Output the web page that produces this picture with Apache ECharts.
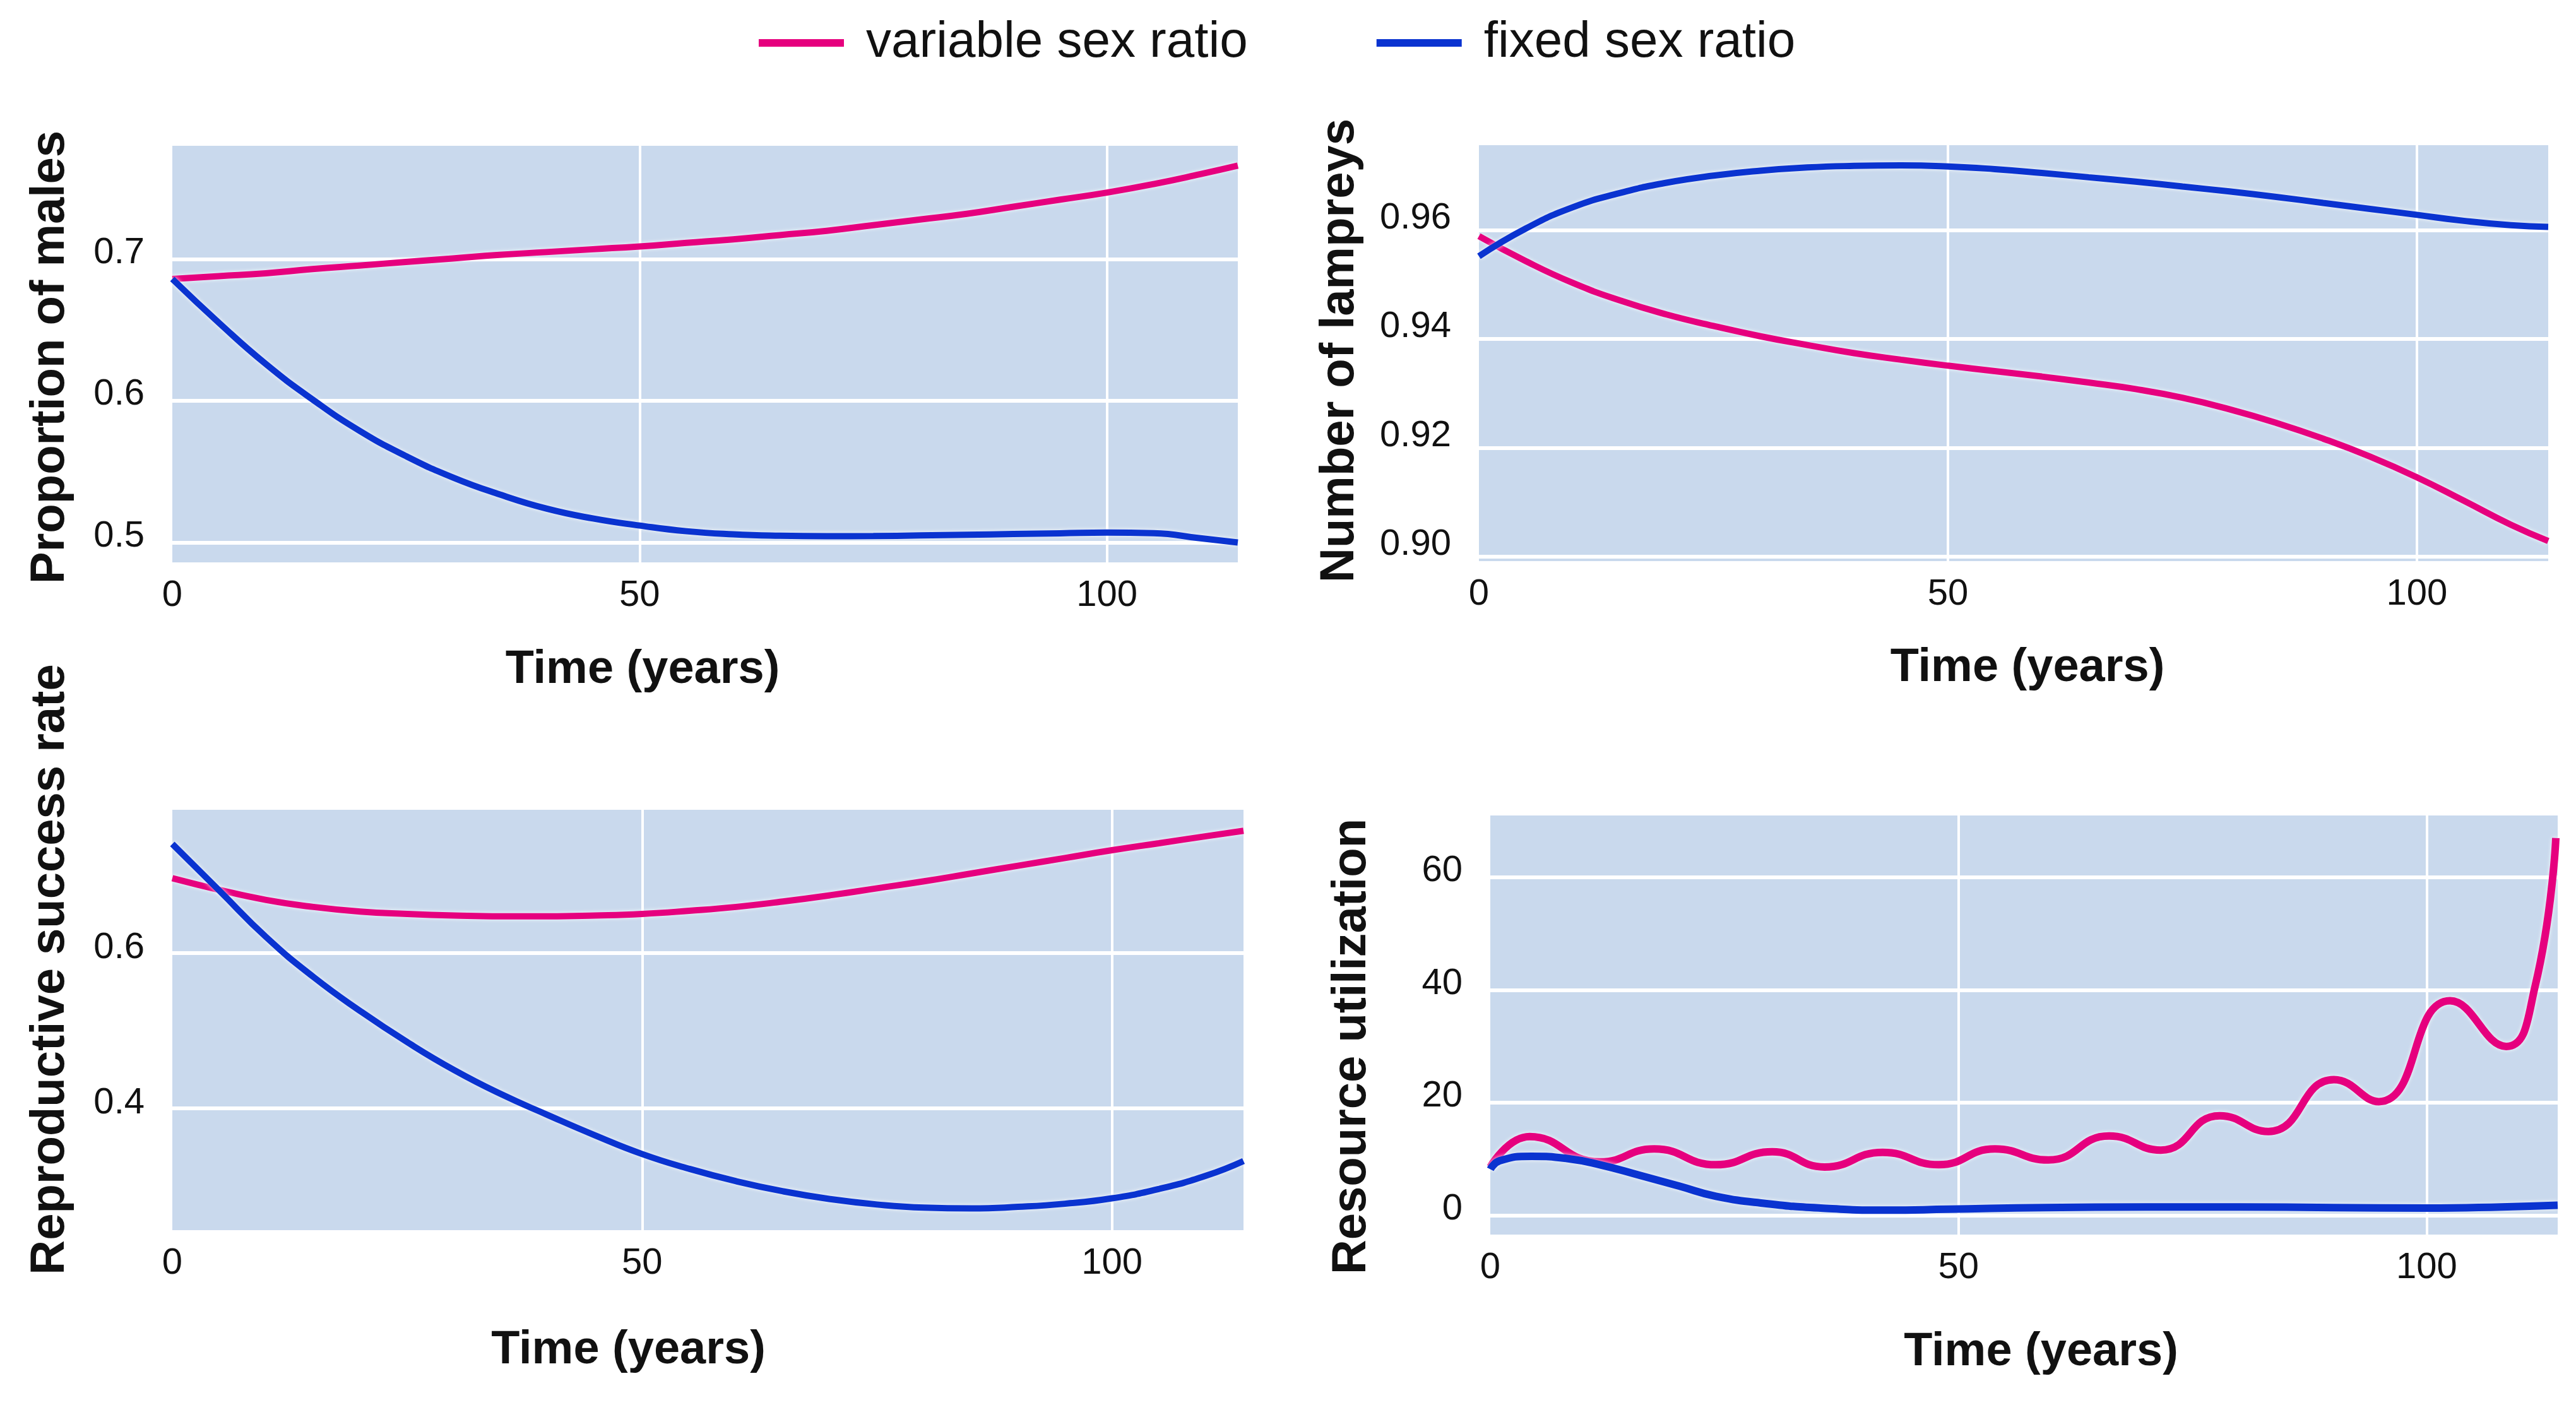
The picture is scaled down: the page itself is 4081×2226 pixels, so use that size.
<!DOCTYPE html>
<html>
<head>
<meta charset="utf-8">
<script src="https://cdn.jsdelivr.net/npm/echarts@6/dist/echarts.min.js"></script>
<style>
html,body{margin:0;padding:0;background:#ffffff;}
#chart{width:4081px;height:2226px;}
</style>
</head>
<body>
<div id="chart"></div>
<script>
// ---------- data ----------
const seriesNames = ['variable sex ratio', 'fixed sex ratio'];
const xTickLabels = [0, 50, 100];
const xGridValues = [50, 100];

const time = [0,5,10,15,20,25,30,35,40,45,50,55,60,65,70,75,80,85,90,95,100,105,110,114];

const malesVariable = [0.686,0.688,0.690,0.693,0.6955,0.698,0.7005,0.703,0.705,0.707,0.709,0.7115,0.714,0.717,0.720,0.724,0.728,0.732,0.737,0.742,0.747,0.753,0.760,0.766];
const malesFixed    = [0.686,0.655,0.626,0.601,0.579,0.561,0.546,0.534,0.524,0.517,0.512,0.508,0.5058,0.5048,0.5045,0.5046,0.505,0.5055,0.506,0.5065,0.507,0.5066,0.503,0.500];
const malesTicks    = [0.5, 0.6, 0.7];

const lampreysVariable = [0.9589,0.9543,0.9503,0.9471,0.9445,0.9424,0.9405,0.9389,0.9374,0.9362,0.9351,0.9341,0.9331,0.9320,0.9308,0.9292,0.9271,0.9246,0.9217,0.9184,0.9146,0.9103,0.9059,0.9029];
const lampreysFixed    = [0.9552,0.9603,0.9642,0.9668,0.9687,0.9700,0.9709,0.9715,0.9718,0.9719,0.9717,0.9712,0.9705,0.9697,0.9689,0.9680,0.9671,0.9661,0.9650,0.9639,0.9628,0.9617,0.9609,0.9606];
const lampreysTicks    = [0.90, 0.92, 0.94, 0.96];

const successVariable = [0.696,0.681,0.668,0.659,0.653,0.650,0.648,0.647,0.647,0.648,0.650,0.654,0.659,0.666,0.674,0.683,0.692,0.702,0.712,0.722,0.732,0.741,0.750,0.757];
const successFixed    = [0.740,0.680,0.620,0.569,0.525,0.485,0.449,0.418,0.391,0.365,0.341,0.322,0.306,0.293,0.283,0.276,0.272,0.271,0.273,0.277,0.284,0.296,0.313,0.332];
const successTicks    = [0.4, 0.6];

const resourceTimeVariable = [0,4.2,11.7,17.5,24.1,30.1,35.7,41.9,47.9,53.9,59.6,66.1,71.6,77.9,83.1,90.1,94.9,102.5,108.5,111.6,113.8];
const resourceVariable     = [8.6,14.0,9.5,11.8,9.0,11.3,8.6,11.2,9.0,11.8,9.85,14.1,11.6,17.7,14.9,24.1,20.2,38.1,30.0,40.8,67.0];
const resourceTimeFixed    = [0,1,4.4,8.2,11.7,16,20.2,24.1,29.5,35.3,42.3,48.9,59.2,70,80,90,100,108,114];
const resourceFixed        = [8.2,9.7,10.5,10.1,9.0,7.1,5.2,3.4,2.1,1.3,0.93,1.1,1.4,1.5,1.5,1.4,1.3,1.5,1.8];
const resourceTicks        = [0, 20, 40, 60];

// ---------- styling / layout ----------
const FONT = 'Liberation Sans';
const PINK = '#e6007e';
const BLUE = '#0a33d0';
const PLOT_BG = '#c9d9ed';

const pairs = (xs, ys) => xs.map((x, i) => [x, ys[i]]);

// labelLift: how far (px) the y tick labels sit above their grid line
const panels = [
  { grid: {left: 273, top: 231, width: 1688, height: 660},
    yName: 'Proportion of males', yMin: 0.486, yMax: 0.780, ticks: malesTicks, dec: 1, labelLift: 10,
    yGap: 155, yPad: [0, 10, 0, 0], xGap: 134, xPad: [0, 198, 0, 0], lw: 10,
    v: pairs(time, malesVariable), f: pairs(time, malesFixed) },
  { grid: {left: 2343, top: 230, width: 1694, height: 659},
    yName: 'Number of lampreys', yMin: 0.8992, yMax: 0.9756, ticks: lampreysTicks, dec: 2, labelLift: 19,
    yGap: 182, yPad: [0, 0, 0, 8], xGap: 133, xPad: [0, 0, 0, 44], lw: 10,
    v: pairs(time, lampreysVariable), f: pairs(time, lampreysFixed) },
  { grid: {left: 273, top: 1283, width: 1697, height: 666},
    yName: 'Reproductive success rate', yMin: 0.243, yMax: 0.784, ticks: successTicks, dec: 1, labelLift: 8,
    yGap: 155, yPad: [0, 0, 0, 160], xGap: 154, xPad: [0, 252, 0, 0], lw: 10,
    v: pairs(time, successVariable), f: pairs(time, successFixed) },
  { grid: {left: 2361, top: 1292, width: 1691, height: 664},
    yName: 'Resource utilization', yMin: -3.4, yMax: 71, ticks: resourceTicks, dec: 0, labelLift: 10,
    yGap: 181, yPad: [0, 68, 0, 0], xGap: 150, xPad: [0, 0, 0, 54], lw: 12,
    v: pairs(resourceTimeVariable, resourceVariable), f: pairs(resourceTimeFixed, resourceFixed) }
];

const grids = [], xAxes = [], yAxes = [], series = [];
panels.forEach((p, i) => {
  grids.push(Object.assign({show: true, backgroundColor: PLOT_BG, borderWidth: 0, containLabel: false, outerBoundsMode: 'none'}, p.grid));
  xAxes.push({
    type: 'value', gridIndex: i, min: 0, max: 114,
    name: 'Time (years)', nameLocation: 'middle', nameGap: p.xGap, nameMoveOverlap: false,
    nameTextStyle: {fontFamily: FONT, fontSize: 74, fontWeight: 'bold', color: '#111', lineHeight: 74, padding: p.xPad},
    axisLine: {show: false},
    axisTick: {show: false, customValues: xGridValues},
    axisLabel: {customValues: xTickLabels, fontFamily: FONT, fontSize: 58, color: '#111', margin: 24, lineHeight: 58},
    splitLine: {show: true, lineStyle: {color: '#ffffff', width: 4}}
  });
  yAxes.push({
    type: 'value', gridIndex: i, min: p.yMin, max: p.yMax,
    name: p.yName, nameLocation: 'middle', nameGap: p.yGap, nameRotate: 90, nameMoveOverlap: false,
    nameTextStyle: {fontFamily: FONT, fontSize: 76, fontWeight: 'bold', color: '#111', lineHeight: 76, padding: p.yPad},
    axisLine: {show: false},
    axisTick: {show: false, customValues: p.ticks},
    axisLabel: {customValues: p.ticks, fontFamily: FONT, fontSize: 58, color: '#111', margin: 44,
      verticalAlign: 'bottom', lineHeight: 2 * p.labelLift,
      formatter: (val) => Number(val).toFixed(p.dec)},
    splitLine: {show: true, lineStyle: {color: '#ffffff', width: 6}}
  });
  series.push({
    name: seriesNames[0], type: 'line', xAxisIndex: i, yAxisIndex: i, data: p.v,
    symbol: 'none', smooth: 0.5, color: PINK,
    lineStyle: {color: PINK, width: p.lw, shadowColor: 'rgba(255,255,255,0.9)', shadowBlur: 6}
  });
  series.push({
    name: seriesNames[1], type: 'line', xAxisIndex: i, yAxisIndex: i, data: p.f,
    symbol: 'none', smooth: 0.5, color: BLUE,
    lineStyle: {color: BLUE, width: p.lw, shadowColor: 'rgba(255,255,255,0.9)', shadowBlur: 6}
  });
});

const chart = echarts.init(document.getElementById('chart'), null, {renderer: 'canvas', width: 4081, height: 2226});
chart.setOption({
  backgroundColor: '#ffffff',
  animation: false,
  legend: {
    data: seriesNames, left: 1202, top: 28, padding: 0,
    icon: 'rect', itemWidth: 135, itemHeight: 12, itemGap: 204,
    textStyle: {fontFamily: FONT, fontSize: 80, color: '#111', lineHeight: 80, padding: [0, 0, 0, 30]}
  },
  grid: grids,
  xAxis: xAxes,
  yAxis: yAxes,
  series: series
});
</script>
</body>
</html>
